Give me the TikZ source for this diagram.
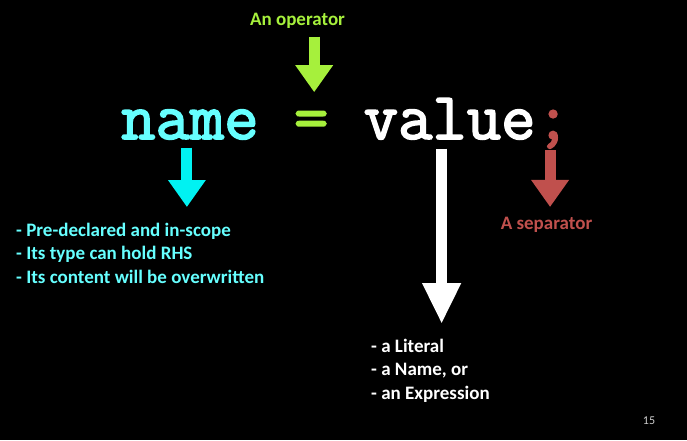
\documentclass[tikz,border=0pt]{standalone}
\usepackage{fontspec}
\setmainfont{Carlito}
\newfontfamily\codefont[FakeBold=2.5]{Latin Modern Mono}
\usetikzlibrary{positioning,arrows.meta}
\definecolor{namecyan}{HTML}{66FFFF}
\definecolor{arrowcyan}{HTML}{00F2F2}
\definecolor{opgreen}{HTML}{A6F03C}
\definecolor{sepred}{HTML}{C0504D}
\tikzset{
  code/.style={font=\codefont\fontsize{66.7}{68}\selectfont, inner sep=0pt},
  note/.style={font=\bfseries\fontsize{19}{23.5}\selectfont, inner sep=0pt, align=left},
  blockarrow/.style={line width=11pt, -{Triangle[width=36pt,length=#1]}},
  blockarrow/.default=27pt
}

\begin{document}
\begin{tikzpicture}[x=1pt,y=-1pt]
\fill [black] (0,0) rectangle (687,440);

% the statement
\node [code, namecyan, anchor=base west] (name) at (121,139) {name};
\node [code, opgreen, base right=35pt of name] (eq) {=};
\node [code, white, base right=35pt of eq] (value) {value};
\node [code, sepred, base right=0pt of value] (semi) {;};

% the notes
\node [note, opgreen, anchor=base] (op) at (297.5,25) {An operator};
\node [note, namecyan, anchor=north west] (lhs) at (16,222.5) {- Pre-declared and in-scope\\- Its type can hold RHS\\- Its content will be overwritten};
\node [note, white, anchor=north west] (rhs) at (371,338.5) {- a Literal\\- a Name, or\\- an Expression};
\node [note, sepred, anchor=base] (sep) at (546.5,229) {A separator};
\node [font=\fontsize{12}{12}\selectfont, white!80!black, inner sep=0pt] (num) at (649,421) {15};

\draw [blockarrow, opgreen, shorten <=8.4pt, shorten >=19pt] ([xshift=3pt]eq.north |- op.south) -- ([xshift=3pt]eq.north);
\draw [blockarrow, arrowcyan, shorten <=8pt, shorten >=15.5pt] ([xshift=-3pt]name.south) -- ([xshift=-3pt]name.south |- lhs.north);
\draw [blockarrow=41pt, white, shorten <=9pt, shorten >=14.5pt] ([xshift=-8pt]value.south) -- ([xshift=-8pt]value.south |- rhs.north);
\draw [blockarrow, sepred, shorten <=2pt, shorten >=9.5pt] ([xshift=-3pt]semi.south) -- ([xshift=-3pt]semi.south |- sep.north);
\end{tikzpicture}
\end{document}
